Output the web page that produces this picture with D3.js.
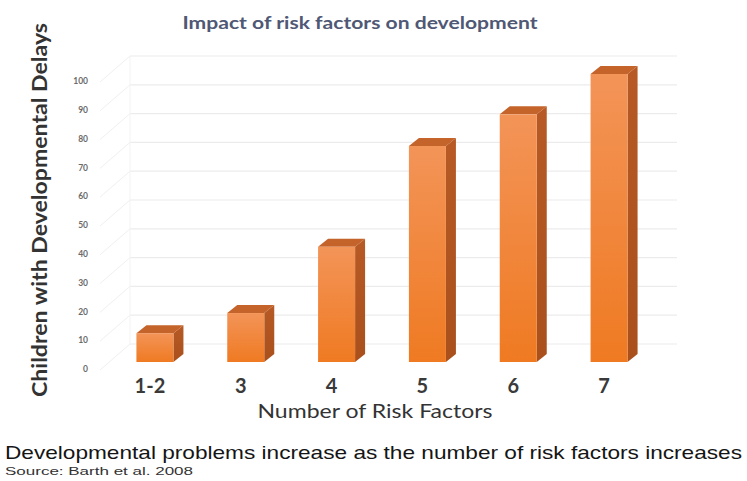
<!DOCTYPE html>
<html>
<head>
<meta charset="utf-8">
<script src="https://cdn.jsdelivr.net/npm/d3@7/dist/d3.min.js"></script>
<style>
  html, body { margin: 0; padding: 0; background: #fff; }
  svg { display: block; }
</style>
</head>
<body>
<svg id="chart" width="747" height="481"></svg>
<script>
// ---- data ----
const categories = ["1-2", "3", "4", "5", "6", "7"];
const values = [10, 17, 40, 75, 86, 100];
const yTicks = [0, 10, 20, 30, 40, 50, 60, 70, 80, 90, 100];
const title = "Impact of risk factors on development";
const yTitle = "Children with Developmental Delays";
const xTitle = "Number of Risk Factors";
const caption = "Developmental problems increase as the number of risk factors increases";
const source = "Source: Barth et al. 2008";

const svg = d3.select("#chart");
const W = 747, H = 481;

// scales
const x = d3.scaleBand().domain(categories).range([91, 673]).paddingInner(0.5925).paddingOuter(0.5);
const y = d3.scaleLinear().domain([0, 100]).range([362, 74]);

// 3D offsets
const bdx = 10, bdy = -8;       // bar depth
const wallX0 = 100, wallX1 = 130, wallXR = 677;
const backDy = -18, frontDy = 8;

// defs: gradients
const defs = svg.append("defs");
const gFront = defs.append("linearGradient").attr("id", "gFront").attr("x1", 0).attr("y1", 0).attr("x2", 0).attr("y2", 1);
gFront.append("stop").attr("offset", "0%").attr("stop-color", "#f39458");
gFront.append("stop").attr("offset", "100%").attr("stop-color", "#ef7a22");
const gSide = defs.append("linearGradient").attr("id", "gSide").attr("x1", 0).attr("y1", 0).attr("x2", 0).attr("y2", 1);
gSide.append("stop").attr("offset", "0%").attr("stop-color", "#b75a25");
gSide.append("stop").attr("offset", "100%").attr("stop-color", "#a9501c");

// walls (gridlines)
const grid = svg.append("g").attr("class", "grid");
grid.selectAll("line.back").data(yTicks).join("line")
  .attr("class", "back")
  .attr("x1", wallX1).attr("x2", wallXR)
  .attr("y1", d => y(d) + backDy).attr("y2", d => y(d) + backDy)
  .attr("stroke", "#ececec").attr("stroke-width", 1.2);
grid.selectAll("line.side").data(yTicks).join("line")
  .attr("class", "side")
  .attr("x1", wallX0).attr("x2", wallX1)
  .attr("y1", d => y(d) + frontDy).attr("y2", d => y(d) + backDy)
  .attr("stroke", "#f0f0f0").attr("stroke-width", 1);
grid.append("line")
  .attr("x1", wallX1).attr("x2", wallX1)
  .attr("y1", y(100) + backDy).attr("y2", y(0) + backDy)
  .attr("stroke", "#f3f3f3");

// y axis tick labels
const yLab = y.copy().range([y(0) + 7, y(100) + 7]);
const yAxis = d3.axisLeft(yLab).tickValues(yTicks).tickSize(0).tickPadding(0);
const yg = svg.append("g").attr("transform", "translate(88,0)").call(yAxis);
yg.select(".domain").remove();
yg.selectAll("text").attr("font-family", "Lato, sans-serif").attr("font-size", 8.5)
  .attr("font-weight", "bold").attr("fill", "#6a6a6a");

// bars
const bars = svg.append("g").attr("class", "bars");
const bw = x.bandwidth();
const data = categories.map((c, i) => ({ c, v: values[i] }));
const bg = bars.selectAll("g.bar").data(data).join("g").attr("class", "bar");
// side face
bg.append("path")
  .attr("d", d => {
    const x1 = x(d.c) + bw, yt = y(d.v), yb = y(0);
    return `M${x1},${yt}L${x1 + bdx},${yt + bdy}L${x1 + bdx},${yb + bdy}L${x1},${yb}Z`;
  })
  .attr("fill", "url(#gSide)");
// top face
bg.append("path")
  .attr("d", d => {
    const x0 = x(d.c), x1 = x0 + bw, yt = y(d.v);
    return `M${x0},${yt}L${x0 + bdx},${yt + bdy}L${x1 + bdx},${yt + bdy}L${x1},${yt}Z`;
  })
  .attr("fill", "#c4632a");
// front face
bg.append("rect")
  .attr("x", d => x(d.c)).attr("y", d => y(d.v))
  .attr("width", bw).attr("height", d => y(0) - y(d.v))
  .attr("fill", "url(#gFront)");

// x axis labels
const xAxis = d3.axisBottom(x).tickSize(0).tickPadding(0);
const xg = svg.append("g").attr("transform", "translate(-5,393)").call(xAxis);
xg.select(".domain").remove();
xg.selectAll("text").attr("font-family", "Lato, sans-serif").attr("font-size", 20)
  .attr("font-weight", "bold").attr("fill", "#3a3a3a").attr("dy", 0);

// titles
svg.append("text").attr("x", 360).attr("y", 29).attr("text-anchor", "middle")
  .attr("font-family", "Lato, sans-serif").attr("font-weight", "bold").attr("font-size", 16.5)
  .attr("fill", "#4f5874").attr("textLength", 355).attr("lengthAdjust", "spacingAndGlyphs")
  .text(title);

svg.append("text").attr("transform", "translate(47,210) rotate(-90)").attr("text-anchor", "middle")
  .attr("font-family", "Lato, sans-serif").attr("font-weight", "bold").attr("font-size", 21)
  .attr("fill", "#333").attr("textLength", 374).attr("lengthAdjust", "spacingAndGlyphs")
  .text(yTitle);

svg.append("text").attr("x", 375).attr("y", 418).attr("text-anchor", "middle")
  .attr("font-family", "Lato, sans-serif").attr("font-size", 20)
  .attr("fill", "#333").attr("textLength", 235).attr("lengthAdjust", "spacingAndGlyphs")
  .text(xTitle);

svg.append("text").attr("x", 5).attr("y", 459)
  .attr("font-family", "'Liberation Sans', Arial, sans-serif").attr("font-size", 19)
  .attr("fill", "#151515").attr("textLength", 737).attr("lengthAdjust", "spacingAndGlyphs")
  .text(caption);

svg.append("text").attr("x", 5).attr("y", 475)
  .attr("font-family", "'Liberation Sans', Arial, sans-serif").attr("font-size", 11.5)
  .attr("fill", "#333").attr("textLength", 188).attr("lengthAdjust", "spacingAndGlyphs")
  .text(source);
</script>
</body>
</html>
